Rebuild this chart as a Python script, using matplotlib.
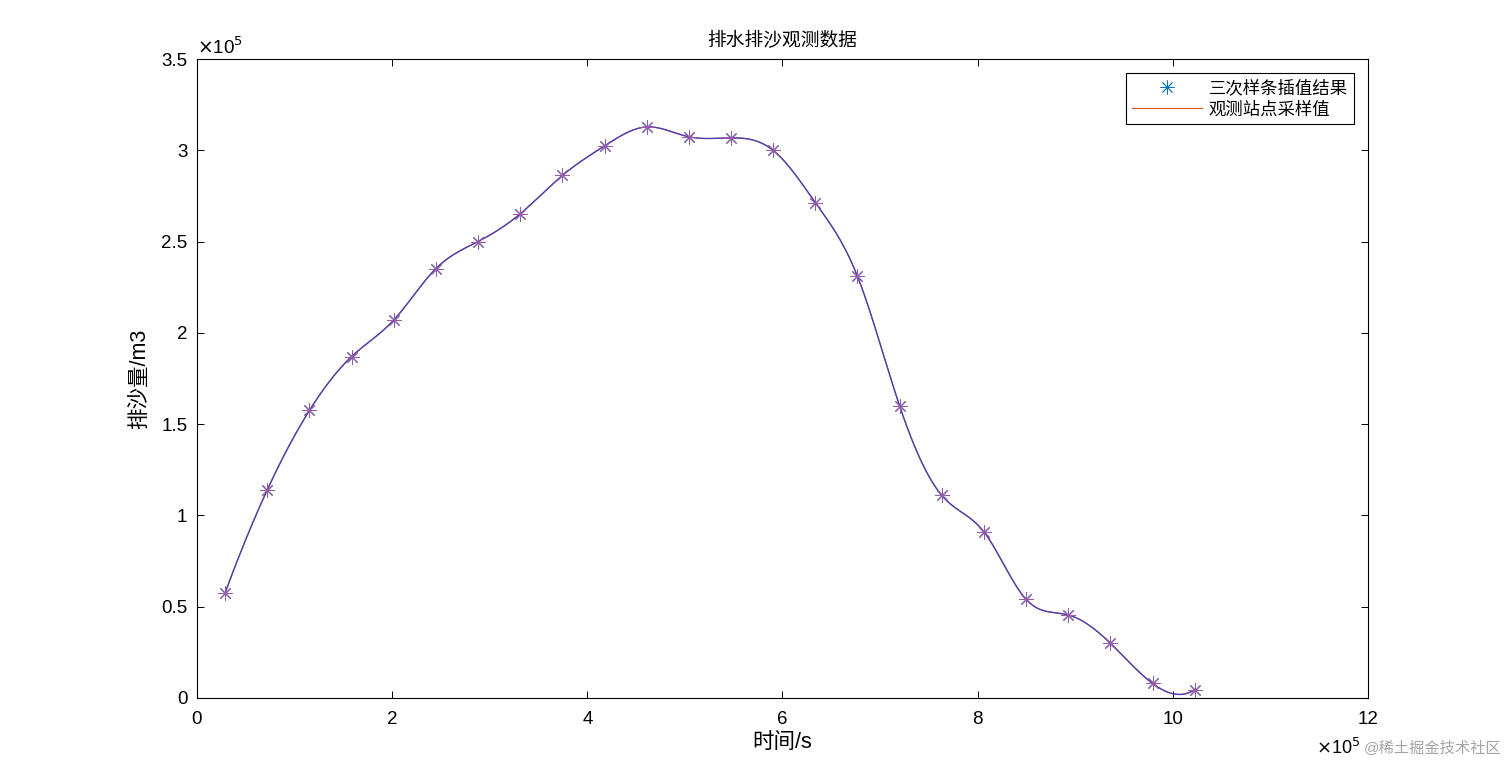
import numpy as np
import matplotlib.pyplot as plt
from matplotlib.lines import Line2D

plt.rcParams['font.family'] = ['Liberation Sans', 'Noto Sans CJK SC', 'DejaVu Sans']

# 观测时间 (s) 与排沙量 (m3)
t_obs = [28800, 72000, 115200, 158400, 201600, 244800, 288000, 331200,
         374400, 417600, 460800, 504000, 547200, 590400, 633600, 676800,
         720000, 763200, 806400, 849600, 892800, 936000, 979200, 1022400]
sand = [57600, 114000, 157500, 187000, 207000, 235200, 250000, 265200,
        286200, 302400, 312800, 307400, 306800, 300000, 271400, 231000,
        160000, 111000, 91000, 54000, 45500, 30000, 8000, 4500]


def spline_notaknot(x, y, xi):
    # 三次样条 (not-a-knot, 同 MATLAB spline)
    x = np.asarray(x, float)
    y = np.asarray(y, float)
    n = len(x)
    h = np.diff(x)
    A = np.zeros((n, n))
    r = np.zeros(n)
    A[0, 0], A[0, 1], A[0, 2] = -h[1], h[0] + h[1], -h[0]
    A[-1, -3], A[-1, -2], A[-1, -1] = -h[-1], h[-2] + h[-1], -h[-2]
    for i in range(1, n - 1):
        A[i, i - 1] = h[i - 1]
        A[i, i] = 2 * (h[i - 1] + h[i])
        A[i, i + 1] = h[i]
        r[i] = 6 * ((y[i + 1] - y[i]) / h[i] - (y[i] - y[i - 1]) / h[i - 1])
    M = np.linalg.solve(A, r)
    idx = np.clip(np.searchsorted(x, xi) - 1, 0, n - 2)
    hh = h[idx]
    dt = xi - x[idx]
    b = (y[idx + 1] - y[idx]) / hh - hh * (2 * M[idx] + M[idx + 1]) / 6
    return y[idx] + b * dt + M[idx] / 2 * dt ** 2 + (M[idx + 1] - M[idx]) / (6 * hh) * dt ** 3


x = np.array(t_obs) / 1e5
y = np.array(sand) / 1e5
xi = np.linspace(t_obs[0], t_obs[-1], 2000)
yi = spline_notaknot(t_obs, sand, xi)

fig = plt.figure(figsize=(15.12, 7.84), dpi=100)
ax = fig.add_axes([197 / 1512, 1 - 698 / 784, 1171 / 1512, 639 / 784])

star = (8, 2, 0)
ax.plot(x, y, linestyle='none', marker=star, color='#0072BD', markersize=10, mew=0.6)
ax.plot(xi / 1e5, yi / 1e5, color='#D95319', lw=0.8)
ax.plot(xi / 1e5, yi / 1e5, color='#4A40B8', lw=1.0)
ax.plot(x, y, linestyle='none', marker=star, color='#9A58A8', markersize=10, mew=0.6)

ax.set_xlim(0, 12)
ax.set_ylim(0, 3.5)
ax.set_xticks(range(0, 13, 2))
ax.set_yticks(np.arange(0, 3.51, 0.5))
ax.set_yticklabels(['0', '0.5', '1', '1.5', '2', '2.5', '3', '3.5'])
ax.tick_params(direction='in', top=True, right=True, labelsize=13.5, length=5, width=0.7)
ax.tick_params(axis='x', pad=9)
ax.tick_params(axis='y', pad=7)
for s in ax.spines.values():
    s.set_linewidth(0.8)

ax.set_title('排水排沙观测数据', fontsize=13.5, fontweight=500, pad=9)
ax.set_xlabel('时间/s', fontsize=15.5, labelpad=3)
ax.set_ylabel('排沙量/m3', fontsize=15.5, labelpad=8)

fig.text(197 / 1512, 1 - 47 / 784, r'$\times$10$^5$', fontsize=13.5, va='center', ha='left')
fig.text(1316 / 1512, 1 - 748 / 784, r'$\times$10$^5$', fontsize=13, va='center', ha='left')
fig.text(1364 / 1512, 1 - 748 / 784, '@稀土掘金技术社区', fontsize=11, color='#9a9a9a',
         va='center', ha='left', alpha=0.9)

handles = [Line2D([], [], linestyle='none', marker=star, color='#0072BD', markersize=10, mew=0.6),
           Line2D([], [], color='#D95319', lw=0.8)]
leg = ax.legend(handles, ['三次样条插值结果', '观测站点采样值'], loc='upper right',
                bbox_to_anchor=(0.988, 0.978), fontsize=12.5, fancybox=False,
                edgecolor='black', framealpha=1, borderpad=0.35, labelspacing=0.3,
                handlelength=4.0, handletextpad=0.4, borderaxespad=0)
leg.get_frame().set_linewidth(0.8)

fig.savefig('out.png', dpi=100)
